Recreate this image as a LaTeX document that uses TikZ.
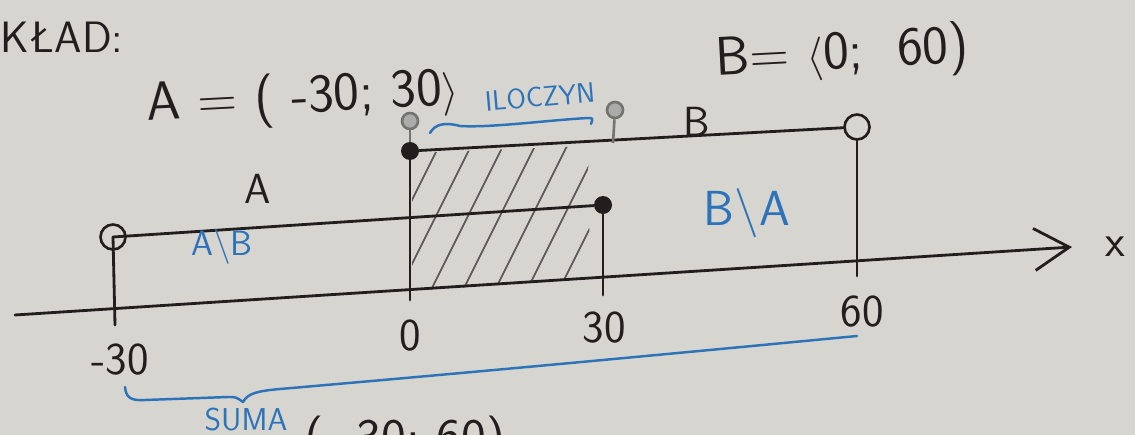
\documentclass[tikz,border=0pt]{standalone}
\usepackage{fontspec}
\usetikzlibrary{arrows.meta}

\definecolor{papier}{RGB}{214,213,208}
\definecolor{tusz}{RGB}{35,30,30}
\definecolor{dlugopis}{RGB}{45,115,185}
\definecolor{olowek}{RGB}{115,115,112}

\tikzset{
  linia/.style={draw=tusz, line width=1.6pt, line cap=round},
  pelny/.style={circle, fill=tusz, inner sep=0pt, minimum size=0.36cm},
  pusty/.style={circle, draw=tusz, line width=1.5pt, inner sep=0pt, minimum size=0.5cm},
  szpilka/.style={circle, draw=olowek, fill=olowek!60, line width=1.5pt, inner sep=0pt, minimum size=0.32cm},
  napis/.style={text=tusz, font=\sffamily\fontsize{#1}{#1}\selectfont, inner sep=0pt},
  niebieski/.style={text=dlugopis, font=\sffamily\fontsize{#1}{#1}\selectfont, inner sep=0pt},
  klamra/.style={draw=dlugopis, line width=1.4pt, line cap=round, line join=round},
}

\begin{document}
\begin{tikzpicture}[x=0.02cm, y=-0.02cm]
    \fill[papier] (0,0) rectangle (1135,435);
    \useasboundingbox (0,0) rectangle (1135,435);
    \clip (0,0) rectangle (1135,435);

    % zakreskowana czesc wspolna
    \begin{scope}
        \clip (412,153) -- (588,146) -- (590,279) -- (412,291) -- cycle;
        \foreach \i in {0,...,9}
            \draw[tusz!75, line width=0.9pt] (330+\i*32,300) -- (410+\i*32,140);
    \end{scope}

    % os x
    \coordinate (os0) at (15,315);
    \coordinate (os1) at (1072,247);
    \draw[linia, -{Straight Barb[length=0.7cm, width=0.84cm, line width=1.6pt]}] (os0) -- (os1);
    \node[napis=26] (osx) at (1115,247) {x};

    % konce przedzialow
    \node[pusty] (a1) at (113,237) {};
    \node[pelny] (a2) at (603,205) {};
    \node[pelny] (b1) at (410,151) {};
    \node[pusty] (b2) at (857,127) {};
    \coordinate (t1) at (115,325);
    \coordinate (t2) at (410,300);
    \coordinate (t3) at (603,295);
    \coordinate (t4) at (857,276);

    % przedzial A
    \draw[linia] (a1.center) -- node[pos=0.3, above=0.45cm, napis=24] (etA) {A} (a2);
    \draw[linia] (a1.center) -- (t1);
    \draw[linia] (a2) -- (t3);

    % przedzial B
    \draw[linia] (b1) -- (b2);
    \draw[linia] (b1) -- (t2);
    \draw[linia] (b2) -- (t4);
    \node[napis=24] (etB) at (697,122) {B};

    % olowkowe szpilki
    \node[szpilka] (p1) at (410,121) {};
    \node[szpilka] (p2) at (615,110) {};
    \coordinate (p2d) at (613,143);
    \draw[olowek, line width=1.5pt] (p1) -- (b1);
    \draw[olowek, line width=1.5pt] (p2) -- (p2d);

    % podpisy osi
    \node[napis=26] (m30) at (120,360) {-30};
    \node[napis=26] (z0) at (410,336) {0};
    \node[napis=26] (p30) at (604,328) {30};
    \node[napis=26] (p60) at (862,312) {60};

    % zapis przedzialow
    \node[napis=25, anchor=west] (tytul) at (0,37) {KŁAD:};
    \node[napis=31, rotate=3] (zbA) at (303,99) {A = ( -30;\ 30$\rangle$};
    \node[napis=31, rotate=3] (zbB) at (842,55) {B= $\langle$0;\ \ 60)};

    % niebieskie dopiski
    \node[niebieski=16, rotate=5] (ilo) at (540,97) {ILOCZYN};
    \draw[klamra] (430,133) .. controls (435,124) and (445,122) .. (460,126)
        .. controls (490,128) and (550,120) .. (588,118) .. controls (593,118) .. (591,124);
    \node[niebieski=20] (AB) at (222,247) {A\textbackslash B};
    \node[niebieski=28] (BA) at (747,213) {B\textbackslash A};
    \draw[klamra] (125,387) .. controls (126,397) and (130,401) .. (145,400) -- (228,397)
        .. controls (236,397) .. (243,402) .. controls (248,393) and (258,391) .. (280,389)
        .. controls (500,370) and (700,351) .. (857,336);
    \node[niebieski=18] (suma) at (246,420) {SUMA};
    \node[napis=30, anchor=north] (zbS) at (405,416) {( -30;\ 60)};
\end{tikzpicture}
\end{document}
